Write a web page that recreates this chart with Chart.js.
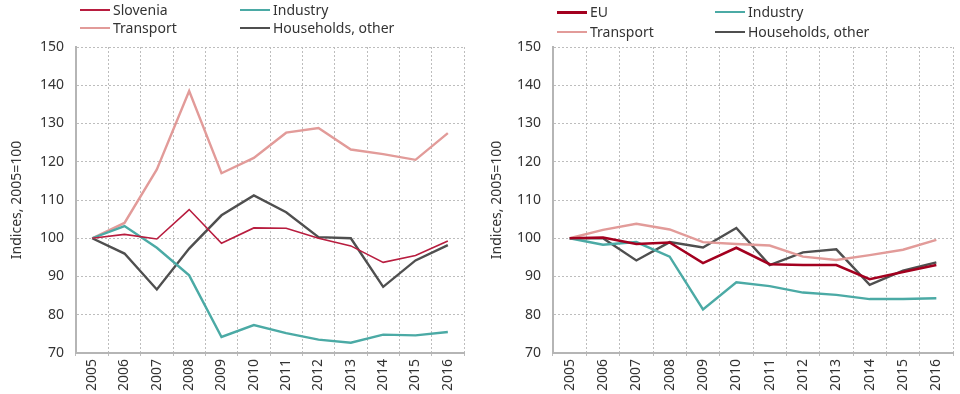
<!DOCTYPE html>
<html>
<head>
<meta charset="utf-8">
<script src="https://cdn.jsdelivr.net/npm/chart.js@4/dist/chart.umd.min.js"></script>
<style>
  body { margin: 0; background: #fff; }
  #wrap { position: relative; width: 960px; height: 394px; }
  .panel { position: absolute; top: 0; width: 480px; height: 394px; }
  .legend { position: absolute; top: 0; left: 0; width: 480px; height: 42px;
    font-family: "Noto Sans", sans-serif; font-size: 14px; color: #333; }
  .legend .item { position: absolute; height: 18px; line-height: 18px; white-space: nowrap; }
  .legend .swatch { display: inline-block; width: 30px; height: 2px; vertical-align: middle; margin-right: 3px; position: relative; top: -1px; }
</style>
</head>
<body>
<div id="wrap">
  <div class="panel" style="left:0"><canvas id="left" width="480" height="394"></canvas><div class="legend" id="legLeft"></div></div>
  <div class="panel" style="left:480px"><canvas id="right" width="480" height="394"></canvas><div class="legend" id="legRight"></div></div>
</div>
<script>
const years = ['2005', '2006', '2007', '2008', '2009', '2010', '2011', '2012', '2013', '2014', '2015', '2016'];
const yTicks = [70, 80, 90, 100, 110, 120, 130, 140, 150];

// Slovenia
const siTotal = [100, 101, 99.8, 107.5, 98.7, 102.7, 102.6, 100, 98, 93.7, 95.5, 99.3];
const siIndustry = [100, 103.2, 97.5, 90.3, 74.2, 77.3, 75.2, 73.5, 72.7, 74.8, 74.6, 75.5];
const siTransport = [100, 104, 118, 138.5, 117, 121, 127.6, 128.8, 123.2, 122, 120.5, 127.5];
const siHouseholds = [100, 96, 86.6, 97.3, 106, 111.2, 106.8, 100.3, 100, 87.3, 94.2, 98.2];

// EU
const euTotal = [100, 100.2, 98.5, 98.9, 93.5, 97.5, 93.2, 93, 93, 89.3, 91.2, 93];
const euIndustry = [100, 98.3, 99, 95.2, 81.4, 88.5, 87.5, 85.8, 85.2, 84.1, 84.1, 84.3];
const euTransport = [100, 102.2, 103.8, 102.3, 99, 98.5, 98.1, 95.2, 94.3, 95.6, 97, 99.6];
const euHouseholds = [100, 100, 94.2, 99, 97.6, 102.7, 93, 96.3, 97.1, 87.8, 91.5, 93.7];

const FONT = '"Noto Sans", sans-serif';
const GRID = '#bdbdbd';
const AXIS = '#b5b5b5';

function series(label, data, color, width) {
  return { label: label, data: data, borderColor: color, backgroundColor: color,
    borderWidth: width, pointRadius: 0, tension: 0, fill: false };
}

function makeChart(id, datasets, yWidth, padRight) {
  return new Chart(document.getElementById(id), {
    type: 'line',
    data: { labels: years, datasets: datasets },
    options: {
      responsive: false,
      animation: false,
      layout: { padding: { top: 47, right: padRight, bottom: 0, left: 0 } },
      plugins: { legend: { display: false }, tooltip: { enabled: false } },
      scales: {
        x: {
          offset: true,
          grid: { offset: true, color: GRID, tickLength: 5,
            tickColor: GRID, tickBorderDash: [2, 2] },
          // in v4 border.dash styles the grid lines; the axis line itself stays solid
          border: { display: true, color: AXIS, width: 2, dash: [2, 2] },
          ticks: { maxRotation: 90, minRotation: 90, padding: 1, color: '#333',
            font: { family: FONT, size: 14 } },
          afterFit: function (s) { s.height = 41; }
        },
        y: {
          min: 70, max: 150,
          afterBuildTicks: function (s) { s.ticks = yTicks.map(function (v) { return { value: v }; }); },
          grid: { color: GRID, drawTicks: false },
          border: { display: true, color: AXIS, width: 2, dash: [2, 2] },
          ticks: { padding: 12, color: '#333', font: { family: FONT, size: 14 } },
          title: { display: true, text: 'Indices, 2005=100', color: '#333',
            font: { family: FONT, size: 14 }, padding: { top: 9, bottom: 0 } },
          afterFit: function (s) { s.width = yWidth; }
        }
      }
    }
  });
}

function buildLegend(id, datasets, cols, rows) {
  const el = document.getElementById(id);
  datasets.forEach(function (ds, i) {
    const item = document.createElement('div');
    item.className = 'item';
    item.style.left = cols[i % 2] + 'px';
    item.style.top = rows[Math.floor(i / 2)] + 'px';
    const sw = document.createElement('span');
    sw.className = 'swatch';
    sw.style.background = ds.borderColor;
    sw.style.height = Math.max(2, Math.round(ds.borderWidth)) + 'px';
    item.appendChild(sw);
    item.appendChild(document.createTextNode(ds.label));
    el.appendChild(item);
  });
}

const leftSets = [
  series('Slovenia', siTotal, '#b81d3f', 1.6),
  series('Industry', siIndustry, '#4baaa5', 2.4),
  series('Transport', siTransport, '#e29b99', 2.4),
  series('Households, other', siHouseholds, '#4f4f4f', 2.4)
];
const rightSets = [
  series('EU', euTotal, '#a3001f', 2.6),
  series('Industry', euIndustry, '#4baaa5', 2.4),
  series('Transport', euTransport, '#e29b99', 2.4),
  series('Households, other', euHouseholds, '#4f4f4f', 2.4)
];

makeChart('left', leftSets, 76, 16);
makeChart('right', rightSets, 73, 7);
buildLegend('legLeft', leftSets, [80, 240], [1, 19]);
buildLegend('legRight', rightSets, [77, 235], [3, 23]);
</script>
</body>
</html>
